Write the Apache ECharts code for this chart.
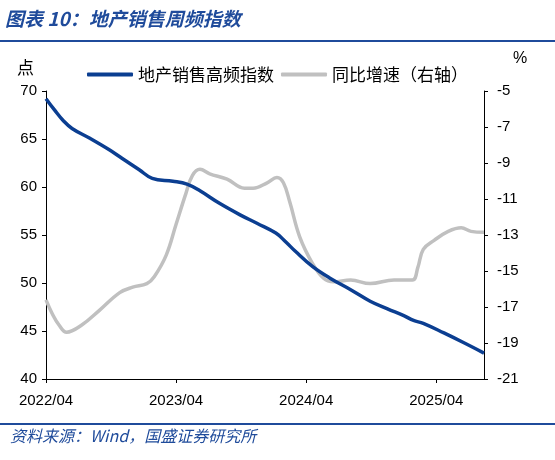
<!DOCTYPE html>
<html>
<head>
<meta charset="utf-8">
<script src="https://cdn.jsdelivr.net/npm/echarts@6/dist/echarts.min.js"></script>
<style>
  html, body { margin: 0; padding: 0; background: #fff; }
  #chart { width: 555px; height: 460px; }
</style>
</head>
<body>
<div id="chart"></div>
<script>
// months since 2022/04 on the x axis
var tickLabels = ['2022/04', '2023/04', '2024/04', '2025/04'];

var indexX = [0.0, 0.8, 1.6, 2.4, 4.0, 5.8, 7.0, 8.6, 9.8, 11.7, 13.0, 14.2, 16.0, 17.9, 19.5, 21.2, 22.1, 23.0, 24.6, 26.2, 28.1, 29.9, 31.5, 33.0, 33.9, 34.8, 36.7, 38.5, 40.4];
var indexY = [69.2, 68.0, 66.9, 66.1, 65.1, 63.9, 63.0, 61.8, 60.9, 60.6, 60.3, 59.6, 58.3, 57.1, 56.2, 55.2, 54.3, 53.3, 51.7, 50.5, 49.3, 48.1, 47.3, 46.6, 46.1, 45.8, 44.8, 43.8, 42.7];

var yoyX = [0.0, 0.6, 1.2, 1.9, 3.3, 4.9, 6.8, 8.0, 9.3, 10.0, 11.1, 12.0, 12.9, 13.5, 14.2, 15.1, 16.7, 18.3, 19.1, 20.4, 21.3, 21.9, 22.5, 23.4, 24.6, 25.6, 26.5, 28.1, 29.9, 32.1, 33.8, 34.3, 34.8, 35.8, 37.1, 38.3, 39.2, 40.4];
var yoyY = [-16.6, -17.4, -18.0, -18.4, -18.0, -17.2, -16.2, -15.9, -15.7, -15.3, -14.1, -12.4, -10.7, -9.7, -9.35, -9.6, -9.9, -10.4, -10.4, -10.1, -9.8, -10.1, -11.2, -13.1, -14.6, -15.4, -15.6, -15.5, -15.7, -15.5, -15.5, -14.8, -13.8, -13.3, -12.8, -12.6, -12.8, -12.85];

var FONT = '"Liberation Sans", Arial, "Noto Sans CJK SC", sans-serif';
var CJK = '"Noto Sans CJK SC", sans-serif';

function pairs(xs, ys) {
  return xs.map(function (x, i) { return [x, ys[i]]; });
}

var chart = echarts.init(document.getElementById('chart'));

var axisLine = { show: true, lineStyle: { color: '#000', width: 1 } };
var axisTick = { show: true, inside: false, length: 4, lineStyle: { color: '#000' } };

chart.setOption({
  animation: false,
  backgroundColor: '#fff',
  grid: { left: 46, right: 71, top: 91, bottom: 81 },
  legend: {
    top: 61,
    left: 82,
    itemWidth: 46,
    itemHeight: 4,
    itemGap: 7,
    textStyle: { fontFamily: CJK, fontSize: 17, color: '#000' },
    data: [
      { name: '地产销售高频指数', icon: 'roundRect' },
      { name: '同比增速（右轴）', icon: 'roundRect' }
    ]
  },
  xAxis: {
    type: 'value',
    min: 0,
    max: 40.4,
    interval: 12,
    splitLine: { show: false },
    axisLine: axisLine,
    axisTick: axisTick,
    axisLabel: {
      showMaxLabel: false,
      color: '#000',
      fontFamily: FONT,
      fontSize: 15,
      margin: 14,
      formatter: function (v) { return tickLabels[Math.round(v / 12)] || ''; }
    }
  },
  yAxis: [
    {
      type: 'value',
      min: 40,
      max: 70,
      interval: 5,
      splitLine: { show: false },
      axisLine: axisLine,
      axisTick: axisTick,
      axisLabel: { color: '#000', fontFamily: FONT, fontSize: 15, margin: 9 }
    },
    {
      type: 'value',
      min: -21,
      max: -5,
      interval: 2,
      position: 'right',
      splitLine: { show: false },
      axisLine: axisLine,
      axisTick: axisTick,
      axisLabel: { color: '#000', fontFamily: FONT, fontSize: 15, margin: 13 }
    }
  ],
  series: [
    {
      name: '地产销售高频指数',
      type: 'line',
      yAxisIndex: 0,
      smooth: 0.4,
      showSymbol: false,
      color: '#0b3e91',
      lineStyle: { width: 3.5, color: '#0b3e91' },
      data: pairs(indexX, indexY),
      z: 3
    },
    {
      name: '同比增速（右轴）',
      type: 'line',
      yAxisIndex: 1,
      smooth: 0.4,
      showSymbol: false,
      color: '#c0c0c0',
      lineStyle: { width: 3.5, color: '#c0c0c0' },
      data: pairs(yoyX, yoyY),
      z: 2
    }
  ],
  graphic: [
    {
      type: 'text', left: 5, top: 9,
      style: { text: '图表 10：地产销售周频指数', fill: '#1f4b9b', font: 'italic bold 19px ' + CJK }
    },
    {
      type: 'rect', shape: { x: 0, y: 40, width: 555, height: 2 },
      style: { fill: '#1f4b9b' }
    },
    {
      type: 'text', left: 17, top: 59,
      style: { text: '点', fill: '#000', font: '17px ' + CJK }
    },
    {
      type: 'text', left: 513, top: 51,
      style: { text: '%', fill: '#000', font: '16px ' + FONT }
    },
    {
      type: 'rect', shape: { x: 0, y: 423, width: 555, height: 2 },
      style: { fill: '#1f4b9b' }
    },
    {
      type: 'text', left: 10, top: 428,
      style: { text: '资料来源：Wind，国盛证券研究所', fill: '#1f4b9b', font: 'italic 16px ' + CJK }
    }
  ]
});
</script>
</body>
</html>
